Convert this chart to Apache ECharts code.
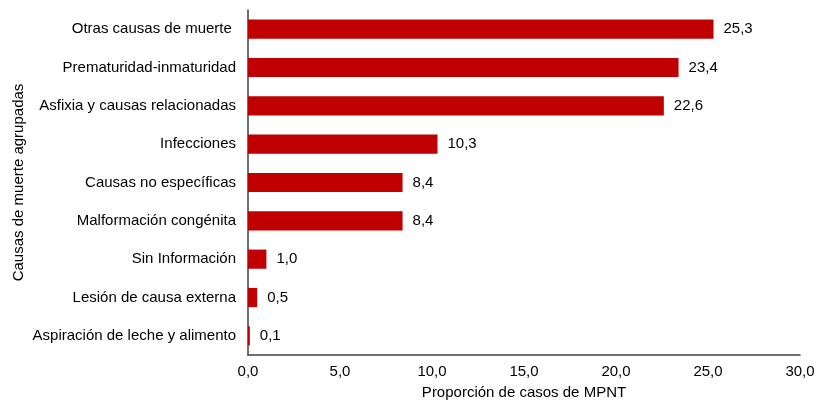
<!DOCTYPE html>
<html>
<head>
<meta charset="utf-8">
<script src="https://cdn.jsdelivr.net/npm/echarts@6/dist/echarts.min.js"></script>
<style>
  html, body { margin: 0; padding: 0; background: #fff; }
  #main { width: 817px; height: 400px; }
</style>
</head>
<body>
<div id="main"></div>
<script>
// causas de muerte, de abajo hacia arriba (orden del eje de categorías)
var causas = ['Aspiración de leche y alimento', 'Lesión de causa externa', 'Sin Información',
    'Malformación congénita', 'Causas no específicas', 'Infecciones',
    'Asfixia y causas relacionadas', 'Prematuridad-inmaturidad', 'Otras causas de muerte '];
var proporcion = [0.1, 0.5, 1.0, 8.4, 8.4, 10.3, 22.6, 23.4, 25.3];

var fuente = 'Liberation Sans, Arial, sans-serif';

var option = {
    animation: false,
    textStyle: { fontFamily: fuente },
    grid: {
        left: 248,
        right: 17,
        top: 10,
        bottom: 45,
        outerBoundsMode: 'none'
    },
    xAxis: {
        type: 'value',
        min: 0,
        max: 30,
        interval: 5,
        name: 'Proporción de casos de MPNT',
        nameLocation: 'middle',
        nameGap: 30,
        nameTextStyle: { fontSize: 15, color: '#000', fontFamily: fuente },
        axisLine: { show: true, lineStyle: { color: '#404040', width: 1.5 } },
        axisTick: { show: false },
        splitLine: { show: false },
        axisLabel: {
            fontSize: 15,
            color: '#000',
            margin: 9,
            formatter: function (v) { return v.toFixed(1).replace('.', ','); }
        }
    },
    yAxis: {
        type: 'category',
        data: causas,
        name: 'Causas de muerte agrupadas',
        nameLocation: 'middle',
        nameGap: 222,
        nameMoveOverlap: false,
        nameTextStyle: { fontSize: 15, color: '#000', fontFamily: fuente },
        axisLine: { show: true, lineStyle: { color: '#404040', width: 1.5 } },
        axisTick: { show: false },
        axisLabel: { fontSize: 15, color: '#000', margin: 12 }
    },
    series: [
        {
            type: 'bar',
            data: proporcion,
            barWidth: '50%',
            itemStyle: { color: '#C00000' },
            label: {
                show: true,
                position: 'right',
                distance: 10,
                fontSize: 15,
                color: '#000',
                formatter: function (p) { return p.value.toFixed(1).replace('.', ','); }
            }
        }
    ]
};

var myChart = echarts.init(document.getElementById('main'));
myChart.setOption(option);
</script>
</body>
</html>
